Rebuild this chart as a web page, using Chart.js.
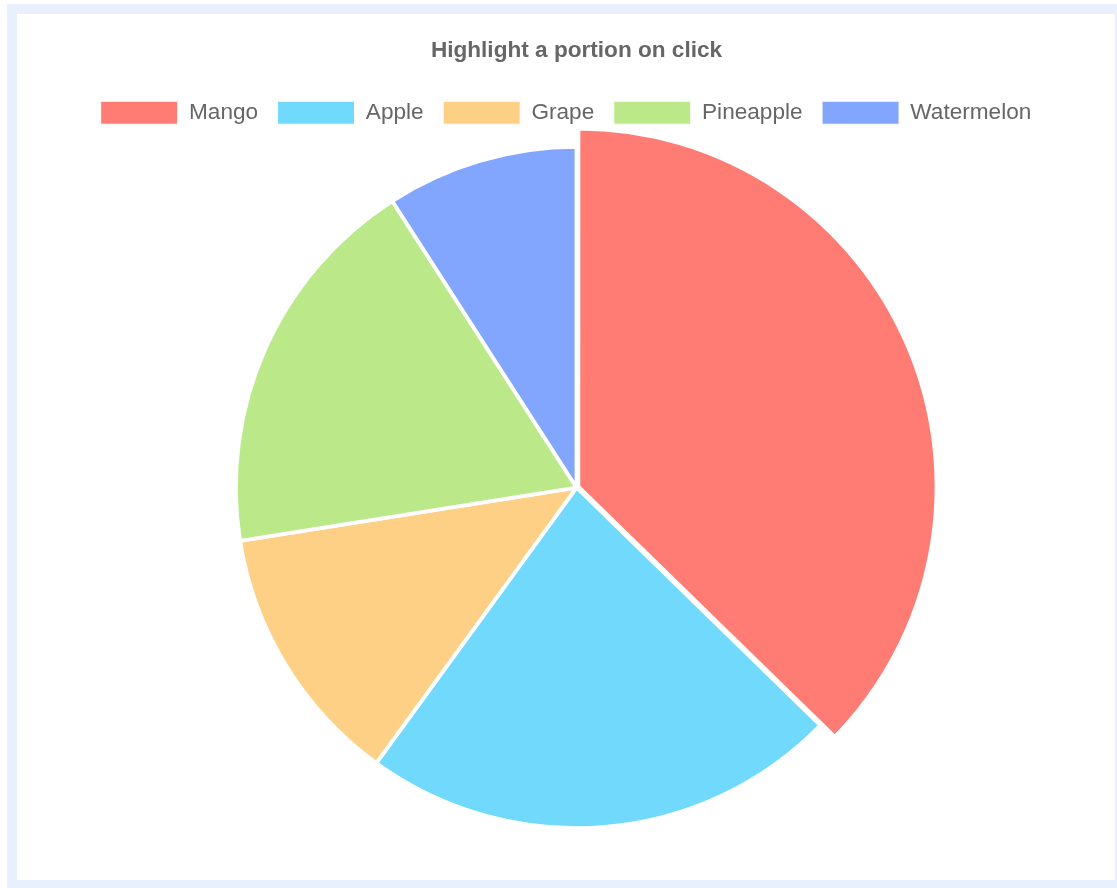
<!DOCTYPE html>
<html><head><meta charset="utf-8">
<script src="https://cdn.jsdelivr.net/npm/chart.js@4.4.0/dist/chart.umd.min.js"></script>
<style>
html,body{margin:0;padding:0;background:#fff;overflow:hidden;width:1117px;height:888px;}
#frame{position:absolute;left:7px;top:4px;width:1098px;height:866px;border:10px solid #e8f0fe;background:#fff;}
canvas{display:block;}
</style></head><body>
<div id="frame"><canvas id="c" width="1098" height="866"></canvas></div>
<script>
const chartTitle = 'Highlight a portion on click';
const categories = ['Mango', 'Apple', 'Grape', 'Pineapple', 'Watermelon'];
const values = [37.3, 22.7, 12.5, 18.4, 9.1];
const sliceColors = ['#ff7c75', '#70d9fc', '#fed086', '#bbe98a', '#82a6fd'];
const highlighted = 0;

Chart.defaults.font.family = "'Liberation Sans', Arial, Helvetica, sans-serif";
Chart.defaults.color = '#666';

const highlightPlugin = {
  id: 'highlight',
  afterLayout(chart) {
    chart.legend.left -= 10.5;
    chart.legend.right -= 10.5;
  },
  afterDatasetsUpdate(chart) {
    const arc = chart.getDatasetMeta(0).data[highlighted];
    if (arc) arc.outerRadius += 17;
  }
};

const baseLabels = (Chart.overrides.pie || Chart.overrides.doughnut).plugins.legend.labels.generateLabels;

new Chart(document.getElementById('c'), {
  type: 'pie',
  data: {
    labels: categories,
    datasets: [{
      data: values,
      backgroundColor: sliceColors,
      borderColor: '#ffffff',
      borderWidth: 3.8,
      offset: values.map((v, i) => i === highlighted ? 8 : 0),
      radius: '98.05%',
      clip: false
    }]
  },
  options: {
    responsive: false,
    animation: false,
    events: [],
    layout: { padding: { top: 2, bottom: 39.2, left: 21, right: 0 } },
    plugins: {
      title: {
        display: true,
        text: chartTitle,
        color: '#666',
        font: { size: 22.6, weight: 'bold' },
        padding: { top: 21.3, bottom: 17.3 }
      },
      legend: {
        position: 'top',
        labels: {
          color: '#666',
          font: { size: 22.6 },
          boxWidth: 77,
          boxHeight: 23,
          padding: 19.5,
          generateLabels(chart) {
            return baseLabels(chart).map(it => Object.assign(it, { lineWidth: 1 }));
          }
        }
      },
      tooltip: { enabled: false }
    }
  },
  plugins: [highlightPlugin]
});
</script>
</body></html>
